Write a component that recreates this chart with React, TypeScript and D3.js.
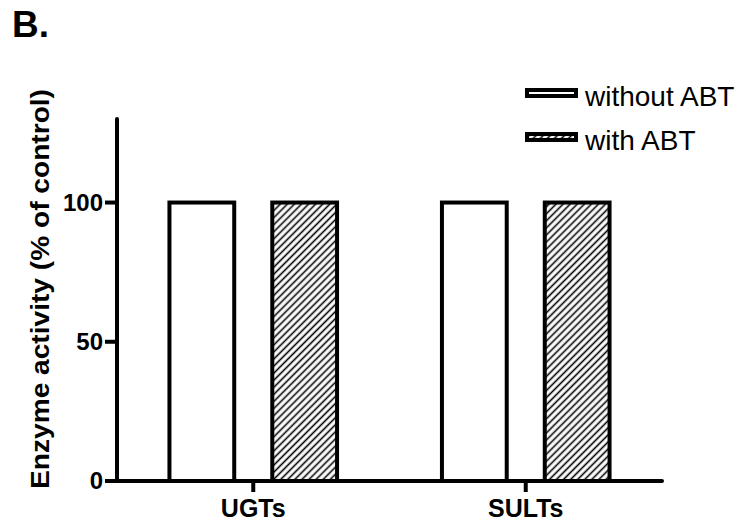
import React from 'react';
import * as d3 from 'd3';

const categories = ['UGTs', 'SULTs'];
const seriesNames = ['without ABT', 'with ABT'];
const withoutABT = [100, 100];
const withABT = [100, 100];
const yTicks = [0, 50, 100];

const W = 744;
const H = 522;
const FONT = 'Liberation Sans, Arial, Helvetica, sans-serif';

export default function App() {
  const x0 = 117, x1 = 662;
  const yBottom = 481, yTop = 119;

  const x = d3.scaleBand<string>().domain(categories).range([x0, x1]).padding(0);
  const xSub = d3.scaleBand<string>()
    .domain(seriesNames)
    .range([0, x.bandwidth()])
    .paddingInner(0.37)
    .paddingOuter(0.51);
  const y = d3.scaleLinear().domain([0, 130]).range([yBottom, yTop]);

  const series = [
    { name: seriesNames[0], values: withoutABT, fill: '#fff' },
    { name: seriesNames[1], values: withABT, fill: 'url(#hatch)' },
  ];

  return (
    <svg width={W} height={H} style={{ position: 'absolute', left: 0, top: 0, background: '#fff' }}>
      <defs>
        <pattern id="hatch" patternUnits="userSpaceOnUse" width={5} height={5} patternTransform="rotate(45)">
          <rect width={5} height={5} fill="#fff" />
          <line x1={2.5} y1={0} x2={2.5} y2={5} stroke="#000" strokeWidth={1.6} />
        </pattern>
      </defs>

      {/* panel letter */}
      <text x={12} y={37} fontFamily={FONT} fontWeight="bold" fontSize={37}>B.</text>

      {/* bars */}
      {series.map(s => (
        <g key={s.name}>
          {categories.map((c, i) => {
            const bx = (x(c) ?? 0) + (xSub(s.name) ?? 0);
            return (
              <rect
                key={c}
                x={bx}
                y={y(s.values[i])}
                width={xSub.bandwidth()}
                height={yBottom - y(s.values[i])}
                fill={s.fill}
                stroke="#000"
                strokeWidth={4}
              />
            );
          })}
        </g>
      ))}

      {/* y axis */}
      <line x1={x0} x2={x0} y1={yTop} y2={yBottom} stroke="#000" strokeWidth={4} strokeLinecap="round" />
      {yTicks.map(t => (
        <g key={t}>
          <line x1={x0 - 12} x2={x0} y1={y(t)} y2={y(t)} stroke="#000" strokeWidth={4} />
          <text x={x0 - 14} y={y(t)} dy="0.35em" textAnchor="end" fontFamily={FONT} fontWeight="bold" fontSize={24}>
            {t}
          </text>
        </g>
      ))}

      {/* x axis */}
      <line x1={x0} x2={x1} y1={yBottom} y2={yBottom} stroke="#000" strokeWidth={4} strokeLinecap="round" />
      {categories.map(c => {
        const cx = (x(c) ?? 0) + x.bandwidth() / 2;
        return (
          <g key={c}>
            <line x1={cx} x2={cx} y1={yBottom} y2={yBottom + 11} stroke="#000" strokeWidth={4} />
            <text x={cx} y={517} textAnchor="middle" fontFamily={FONT} fontWeight="bold" fontSize={25}>
              {c}
            </text>
          </g>
        );
      })}

      {/* y title */}
      <text
        transform="translate(49,289) rotate(-90)"
        textAnchor="middle"
        fontFamily={FONT}
        fontWeight="bold"
        fontSize={25}
        textLength={400}
        lengthAdjust="spacingAndGlyphs"
      >
        Enzyme activity (% of control)
      </text>

      {/* legend */}
      {series.map((s, i) => (
        <g key={s.name} transform={`translate(527,${90 + i * 44})`}>
          <rect x={0} y={0} width={49} height={6} fill={s.fill} stroke="#000" strokeWidth={4} />
          <text x={58} y={16} fontFamily={FONT} fontSize={28}>{s.name}</text>
        </g>
      ))}
    </svg>
  );
}
